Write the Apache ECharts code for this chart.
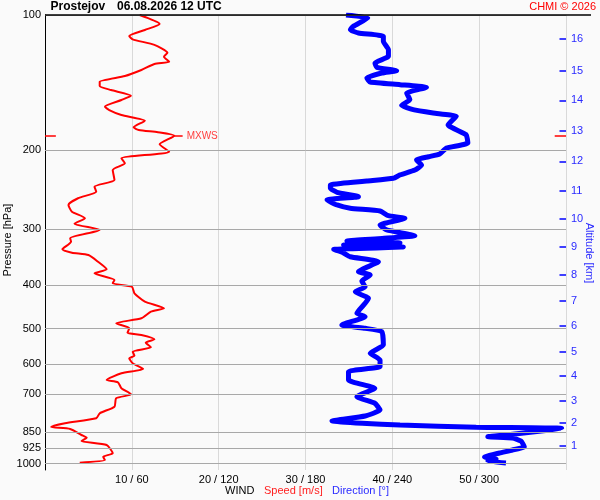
<!DOCTYPE html>
<html>
<head>
<meta charset="utf-8">
<script src="https://cdn.jsdelivr.net/npm/echarts/dist/echarts.min.js"></script>
<style>
html,body{margin:0;padding:0;background:#fafafa;}
#chart{width:600px;height:500px;}
</style>
</head>
<body>
<div id="chart"></div>
<script>
// ---- data ----
const pressureLevels = [100, 200, 300, 400, 500, 600, 700, 850, 925, 1000];
const xTickValues = [10, 20, 30, 40, 50];
const xTickLabels = ['10 / 60', '20 / 120', '30 / 180', '40 / 240', '50 / 300'];
const altitudeKm = [16, 15, 14, 13, 12, 11, 10, 9, 8, 7, 6, 5, 4, 3, 2, 1];
const altitudeP  = [113, 133, 155, 181, 212, 247, 285, 329, 380, 434, 494, 564, 638, 725, 812, 914];

// wind speed profile [m/s] at pressure [hPa]
const speedP = [100,104.7,108,111.4,113.3,116.6,121.4,123.9,127.1,128.6,132.6,136.8,140.9,144,147,151.4,154.7,160.1,162.9,167.1,172.1,178,180.5,182.6,185.9,194.2,201.7,208.7,214.1,221.6,233.3,241.4,247.7,256.2,265.2,274.5,283.9,291.9,301.5,314.6,320.2,332.9,338.8,342.9,354.9,369,376.6,389.8,396.5,403.5,417.4,435.8,450.8,458.7,474.5,486.9,499.5,510.9,517,528.5,537.8,550.6,563.2,574.9,582.6,597.8,615.5,629.3,651.3,659,679.7,701,715.5,747,772.8,792.9,813.5,829.1,837.7,863.9,876,891,909.5,949,965.8,982.2,995.9];
const speedV = [10.9,13.2,11.5,9.7,10.1,12.6,14.1,13.7,14.3,12.6,11.1,9.2,6.3,6.3,7.6,9.9,8.8,6.9,7.4,8.8,11.5,10.2,10.8,13.0,14.9,13.2,14.3,8.8,9.2,7.8,8.0,5.7,5.9,3.8,2.7,3.1,4.6,3.4,6.3,2.9,3.0,2.0,3.1,5.0,6.1,7.1,5.7,8.0,7.8,10.0,10.3,11.5,13.7,12.2,11.1,8.2,9.7,9.5,11.1,12.6,11.6,12.2,10.1,10.3,9.7,10.1,11.3,8.8,7.1,8.4,8.8,9.9,8.2,8.0,6.3,5.9,2.3,0.7,2.9,4.2,4.8,4.2,7.1,7.8,6.7,6.9,4.0];

// wind direction profile [deg] at pressure [hPa]
const dirP = [100,101.5,106,107.8,109.7,111.5,114.5,119.5,123.6,128,130.8,133.1,134.7,138.2,141.1,143,145,149.3,154.5,159,162.6,165.4,168.2,175.8,184.9,192.9,198,204.1,207,210.5,216,221.6,227.3,231.2,234.5,239.3,243.4,248.5,254.1,258.5,265.2,269.7,273.5,280.2,283.9,293.9,301.5,310.5,315,319,322.3,325.7,329,333.3,337.6,345.9,354.9,373.5,379.9,391.8,403.5,414,428.2,439.4,462.5,470.6,491.1,499.5,508.3,544.2,567.8,587.7,608.3,624.1,651.3,679.7,709.7,734.1,759.8,783.6,803.9,820.6,830.4,834.6,844.1,863.9,871.5,877.3,891,917.4,933.1,947.6,967.2,977.2,987.3,997.5];
const dirV = [208,223,213,211,216.6,233.8,233.8,237.3,237.3,228,229.2,243,232.7,222.4,224.7,245.3,263.6,249.9,252.1,246.4,254.4,268.2,284.2,278.5,291,292.2,277.3,272.7,265,256.7,260.2,255.6,245.3,240.7,222.4,197.2,197.2,201.8,216.6,194.9,201.8,210.9,231.5,237.3,248.7,231.5,236.1,255.6,233,208.6,245.3,206.3,247.6,199.5,205,210.9,230.4,216.6,224.7,218.9,221.2,214.4,223.5,221.2,215.5,221.2,205.1,221.2,232.7,233.8,224.7,231.5,231.5,209.7,209.7,227.9,215.5,227.9,231.5,221.2,198.3,245.3,297.9,357,346,318.6,306,323,328.9,331.2,323,314,303.7,311.7,306,318.5];

// ---- chart ----
const FONT = '"Liberation Sans", Arial, sans-serif';
const speedData = speedP.map((p, i) => [speedV[i], p]);
const dirData = dirP.map((p, i) => [dirV[i], p]);
let iMax = 0;
speedV.forEach((v, i) => { if (v > speedV[iMax]) iMax = i; });
const vMax = speedV[iMax], pMax = speedP[iMax];

const chart = echarts.init(document.getElementById('chart'), null, {renderer: 'canvas'});
const option = {
  backgroundColor: '#fafafa',
  animation: false,
  grid: {left: 45, right: 34, top: 15, bottom: 30},
  xAxis: [
    {
      type: 'value', min: 0, max: 60, interval: 10,
      axisLine: {show: false}, axisTick: {show: false},
      splitLine: {show: true, lineStyle: {color: '#d9d9d9', width: 1}},
      axisLabel: {
        margin: 4, color: '#000', fontSize: 11, fontFamily: FONT,
        showMinLabel: false, showMaxLabel: false,
        formatter: v => { const k = xTickValues.indexOf(v); return k >= 0 ? xTickLabels[k] : ''; }
      }
    },
    {type: 'value', min: 0, max: 360, show: false}
  ],
  yAxis: [{
    type: 'log', logBase: 10, min: 100, max: 1034, inverse: true,
    axisLine: {show: true, lineStyle: {color: '#000', width: 1}},
    axisTick: {show: false}, axisLabel: {show: false}, splitLine: {show: false}
  }],
  series: [
    {
      name: 'levels', type: 'line', data: [], z: 1, silent: true,
      markLine: {
        silent: true, symbol: 'none', animation: false,
        lineStyle: {color: '#a8a8a8', width: 1, type: 'solid'},
        label: {position: 'start', distance: 4, color: '#000', fontSize: 11, fontFamily: FONT, formatter: '{b}'},
        emphasis: {disabled: true},
        data: pressureLevels.map(p => ({name: String(p), yAxis: p}))
      }
    },
    {
      name: 'Speed', type: 'line', data: speedData, xAxisIndex: 0, yAxisIndex: 0,
      showSymbol: false, symbol: 'none', smooth: 0.2, z: 3,
      lineStyle: {color: '#ff0000', width: 2}, itemStyle: {color: '#ff0000'},
      markLine: {
        silent: true, symbol: 'none', animation: false,
        lineStyle: {color: '#ff0000', width: 1.5, type: 'solid'},
        label: {show: false},
        emphasis: {disabled: true},
        data: [
          [{coord: [0, pMax]}, {coord: [1.25, pMax]}],
          [{coord: [58.7, pMax]}, {coord: [60, pMax]}],
          [{name: 'MXWS', coord: [vMax, pMax],
            label: {show: true, position: 'end', distance: 4, color: '#ff4040', fontSize: 10, fontFamily: FONT, formatter: '{b}'}},
           {coord: [vMax + 0.95, pMax]}]
        ]
      }
    },
    {
      name: 'Direction', type: 'line', data: dirData, xAxisIndex: 1, yAxisIndex: 0,
      showSymbol: false, symbol: 'none', smooth: 0.15, z: 2,
      lineStyle: {color: '#0000ff', width: 5}, itemStyle: {color: '#0000ff'},
      markLine: {
        silent: true, symbol: 'none', animation: false,
        lineStyle: {color: '#0000ff', width: 1.5, type: 'solid'},
        label: {position: 'end', distance: 5, color: '#2a2aff', fontSize: 11, fontFamily: FONT, formatter: '{b}'},
        emphasis: {disabled: true},
        data: altitudeKm.map((k, i) => [{name: String(k), coord: [355.5, altitudeP[i]]}, {coord: [360, altitudeP[i]]}])
      }
    }
  ],
  graphic: [
    {type: 'line', z: 100, shape: {x1: 45, y1: 15, x2: 591, y2: 15}, style: {stroke: '#000', lineWidth: 1.5}},
    {type: 'text', z: 100, x: 50.5, y: 7, style: {text: 'Prostejov', fill: '#000', font: 'bold 12px ' + FONT, align: 'left', verticalAlign: 'middle', textAlign: 'left', textVerticalAlign: 'middle'}},
    {type: 'text', z: 100, x: 117, y: 7, style: {text: '06.08.2026 12 UTC', fill: '#000', font: 'bold 12px ' + FONT, align: 'left', verticalAlign: 'middle', textAlign: 'left', textVerticalAlign: 'middle'}},
    {type: 'text', z: 100, x: 596, y: 7, style: {text: 'CHMI © 2026', fill: '#ff0000', font: '11px ' + FONT, align: 'right', verticalAlign: 'middle', textAlign: 'right', textVerticalAlign: 'middle'}},
    {type: 'text', z: 100, x: 8, y: 240, rotation: Math.PI / 2, style: {text: 'Pressure [hPa]', fill: '#000', font: '11px ' + FONT, align: 'center', verticalAlign: 'middle', textAlign: 'center', textVerticalAlign: 'middle'}},
    {type: 'text', z: 100, x: 589, y: 253, rotation: -Math.PI / 2, style: {text: 'Altitude [km]', fill: '#2a2aff', font: '11px ' + FONT, align: 'center', verticalAlign: 'middle', textAlign: 'center', textVerticalAlign: 'middle'}},
    {type: 'text', z: 100, x: 225, y: 491, style: {text: 'WIND', fill: '#000', font: '11px ' + FONT, align: 'left', verticalAlign: 'middle', textAlign: 'left', textVerticalAlign: 'middle'}},
    {type: 'text', z: 100, x: 264, y: 491, style: {text: 'Speed [m/s]', fill: '#ff2020', font: '11px ' + FONT, align: 'left', verticalAlign: 'middle', textAlign: 'left', textVerticalAlign: 'middle'}},
    {type: 'text', z: 100, x: 332, y: 491, style: {text: 'Direction [°]', fill: '#2a2aff', font: '11px ' + FONT, align: 'left', verticalAlign: 'middle', textAlign: 'left', textVerticalAlign: 'middle'}}
  ]
};
chart.setOption(option);
</script>
</body>
</html>
